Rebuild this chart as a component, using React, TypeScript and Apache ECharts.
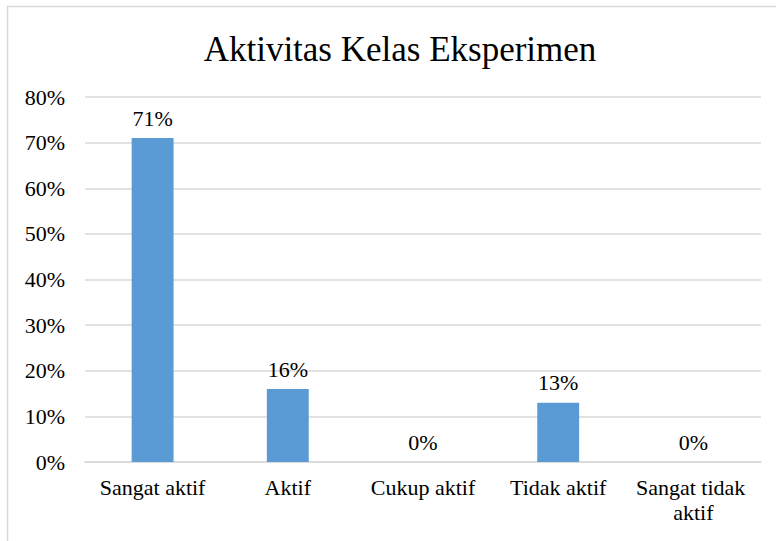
import React, { useEffect, useRef } from "react";
import * as echarts from "echarts";

const categories = ["Sangat aktif", "Aktif", "Cukup aktif", "Tidak aktif", "Sangat tidak aktif"];
const values = [71, 16, 0, 13, 0];
const yTicks = { min: 0, max: 80, interval: 10 };
const titleText = "Aktivitas Kelas Eksperimen";

const FONT = "Liberation Serif, Times New Roman, serif";

export default function App() {
  const ref = useRef<HTMLDivElement>(null);
  useEffect(() => {
    const chart = echarts.init(ref.current!, null, { renderer: "svg" });
    chart.setOption({
      animation: false,
      backgroundColor: "#fff",
      textStyle: { fontFamily: FONT },
      graphic: [
        {
          type: "rect",
          shape: { x: 7.5, y: 6.5, width: 900, height: 700 },
          style: { fill: "none", stroke: "#d9d9d9", lineWidth: 1.5 },
          silent: true,
        },
        {
          type: "text",
          x: 400,
          y: 49,
          style: {
            text: titleText,
            fontFamily: FONT,
            fontSize: 35,
            fill: "#000",
            textAlign: "center",
            textVerticalAlign: "middle",
          },
          silent: true,
        },
      ],
      grid: { left: 85, right: 15, top: 97, bottom: 79 },
      xAxis: {
        type: "category",
        data: categories,
        axisLine: { show: true, lineStyle: { color: "#d9d9d9", width: 1.5 } },
        axisTick: { show: false },
        axisLabel: {
          interval: 0,
          margin: 13,
          fontFamily: FONT,
          fontSize: 22,
          color: "#000",
          width: 125,
          overflow: "break",
          lineHeight: 25,
        },
      },
      yAxis: {
        type: "value",
        min: yTicks.min,
        max: yTicks.max,
        interval: yTicks.interval,
        axisLine: { show: false },
        axisTick: { show: false },
        splitLine: { show: true, lineStyle: { color: "#d9d9d9", width: 1.5 } },
        axisLabel: {
          margin: 20,
          fontFamily: FONT,
          fontSize: 22,
          color: "#000",
          formatter: (v: number) => `${v}%`,
        },
      },
      series: [
        {
          type: "bar",
          data: values,
          barWidth: "31%",
          itemStyle: { color: "#5B9BD5" },
          label: {
            show: true,
            position: "top",
            distance: 9,
            fontFamily: FONT,
            fontSize: 22,
            color: "#000",
            formatter: (p: any) => `${p.value}%`,
          },
        },
      ],
    });
    return () => chart.dispose();
  }, []);
  return (
    <div
      ref={ref}
      style={{ position: "fixed", left: 0, top: 0, width: 776, height: 541 }}
    />
  );
}
